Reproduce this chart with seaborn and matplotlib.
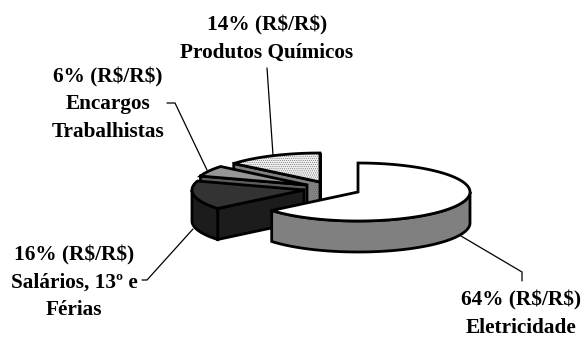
import numpy as np
import matplotlib
matplotlib.use("Agg")
import matplotlib.pyplot as plt
from matplotlib.patches import Polygon
import seaborn as sns

# Cost shares, clockwise from twelve o'clock
categories = ["Eletricidade", "Salários, 13º e\nFérias", "Encargos\nTrabalhistas", "Produtos Químicos"]
shares = [64, 16, 6, 14]
unit = r"(R\$/R\$)"

# Drawing geometry of the tilted, exploded pie (screen pixels)
apexes = [(358, 192), (304, 190), (307, 185), (320, 182)]
top_colors = ["#ffffff", "#333333", "#969696", "#f0f0f0"]
side_colors = ["#808080", "#1c1c1c", "#5c5c5c", "#858585"]
hatches = [None, None, None, "........"]
hatch_colors = [None, None, None, "#6a6a6a"]
RX, RY, DEPTH = 112, 29, 31

label_anchors = [(521, 300.5), (74, 255), (108, 77), (267, 25)]
leaders = [
    [(461, 236), (522, 272), (522, 281)],
    [(142, 280), (147, 280), (193, 229)],
    [(167, 103), (175, 103), (207, 170)],
    [(267, 68), (273, 155)],
]

sns.set_theme(style="white")
plt.rcParams["font.family"] = ["Liberation Serif", "DejaVu Serif"]
plt.rcParams["hatch.linewidth"] = 0.4

fig = plt.figure(figsize=(5.84, 3.37), dpi=100)
ax = fig.add_axes([0, 0, 1, 1])
ax.set_xlim(0, 584)
ax.set_ylim(337, 0)
ax.axis("off")

EDGE = 2.0


def rim(center, a0, a1):
    t = np.radians(np.linspace(a0, a1, 120))
    return np.column_stack([center[0] + RX * np.sin(t), center[1] - RY * np.cos(t)])


def face(points, fill, hatch=None, hatch_color=None, z=1):
    ax.add_patch(Polygon(points, closed=True, fc=fill, ec="none", zorder=z))
    if hatch:
        ax.add_patch(Polygon(points, closed=True, fill=False, ec=hatch_color, lw=0, hatch=hatch, zorder=z))
    ax.add_patch(Polygon(points, closed=True, fill=False, ec="black", lw=EDGE, joinstyle="miter", zorder=z))


edges = np.concatenate([[0], np.cumsum(shares)]) * 3.6

# Painted back to front so nearer slices cover farther ones
for i in [3, 2, 1, 0]:
    a0, a1 = edges[i], edges[i + 1]
    c = np.array(apexes[i], dtype=float)
    z = 4 - i
    down = np.array([0, DEPTH])
    arc = rim(c, a0, a1)

    # radial walls that face the viewer
    if np.sin(np.radians(a0)) < 1e-9:
        face(np.array([c, arc[0], arc[0] + down, c + down]), side_colors[i],
             hatches[i], hatch_colors[i], z)
    if np.sin(np.radians(a1)) > -1e-9:
        face(np.array([c, arc[-1], arc[-1] + down, c + down]), side_colors[i],
             hatches[i], hatch_colors[i], z)

    # outer wall, only the part of the rim that faces the viewer
    lo, hi = max(a0, 90), min(a1, 270)
    if hi > lo:
        front = rim(c, lo, hi)
        face(np.vstack([front, (front + down)[::-1]]), side_colors[i],
             hatches[i], hatch_colors[i], z)

    # top face
    face(np.vstack([c, arc]), top_colors[i], hatches[i], hatch_colors[i], z)

for pts in leaders:
    xs, ys = zip(*pts)
    ax.plot(xs, ys, color="black", lw=0.9, zorder=6, solid_joinstyle="miter")

for name, share, (x, y) in zip(categories, shares, label_anchors):
    lines = [f"{share}% {unit}"] + name.split("\n")
    for j, line in enumerate(lines):
        ax.text(x, y + j * 27.5, line, ha="center", va="center",
                fontsize=15.3, fontweight="bold", color="black", zorder=7)

fig.savefig("out.png", dpi=100, facecolor="white")
